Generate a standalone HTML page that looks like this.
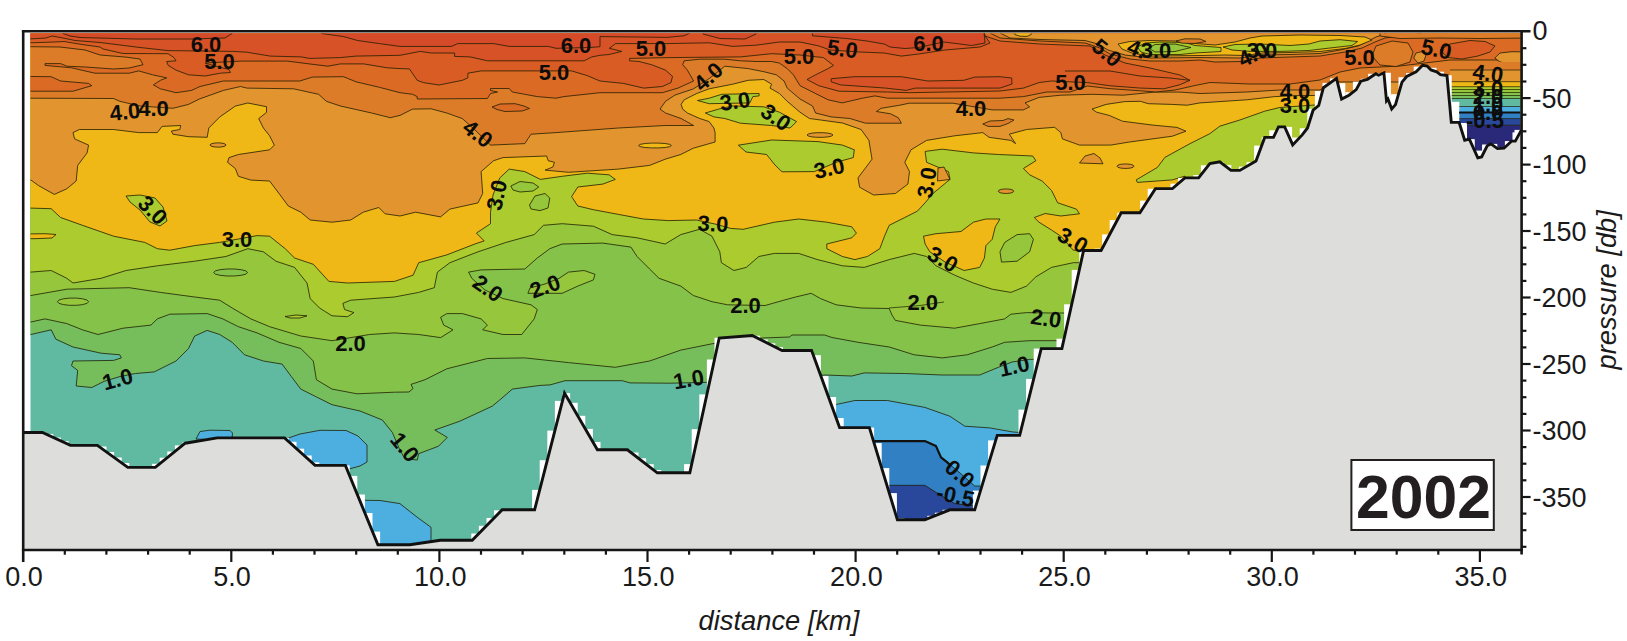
<!DOCTYPE html>
<html><head><meta charset="utf-8"><title>2002 section</title>
<style>html,body{margin:0;padding:0;background:#fff;}body{width:1627px;height:641px;position:relative;overflow:hidden;font-family:"Liberation Sans",sans-serif;}</style>
</head><body>
<svg width="1627" height="641" viewBox="0 0 1627 641" style="position:absolute;left:0;top:0">
<defs><clipPath id="w"><rect x="30.5" y="33.4" width="1490" height="516"/></clipPath><clipPath id="rbc"><rect x="1446" y="33.4" width="74.5" height="130"/></clipPath></defs>
<rect x="0" y="0" width="1627" height="641" fill="#fff"/>
<g clip-path="url(#w)" stroke-linejoin="round">
<rect x="25" y="25" width="1500" height="530" fill="#60b9a1"/>
<polygon points="25.0,334.5 30.9,334.5 51.2,329.8 55.9,339.2 73.0,347.0 101.1,353.2 119.8,354.8 121.4,357.9 113.6,360.4 73.0,361.0 71.5,365.7 77.7,370.4 76.2,386.0 91.8,387.5 104.2,381.3 120.0,376.5 135.4,373.5 154.2,371.9 176.0,361.0 188.5,348.5 194.7,336.0 207.2,330.4 219.7,334.5 232.2,342.3 244.6,354.8 263.4,361.0 282.1,364.1 291.4,376.6 300.8,389.1 316.4,396.9 332.0,404.7 360.0,411.0 382.4,420.0 392.4,432.5 399.9,450.0 404.8,458.7 417.3,460.0 418.6,453.7 438.5,446.2 447.3,437.4 434.8,430.0 459.8,421.2 492.2,406.2 499.7,400.0 512.3,389.1 540.0,385.4 550.0,384.9 565.0,380.7 622.4,380.7 629.9,382.9 669.8,383.2 705.0,382.4 760.0,380.0 825.2,375.0 851.8,376.0 864.2,372.9 904.8,373.5 942.2,375.0 979.7,375.0 998.4,367.3 1012.0,362.0 1029.6,359.4 1045.0,359.0 1540.0,359.0 1540.0,20.0 25.0,20.0" fill="#76be5c" stroke="rgba(30,28,0,0.78)" stroke-width="1.0"/>
<polygon points="25.0,322.0 30.9,322.0 45.0,318.9 66.8,323.6 82.4,329.8 98.0,334.5 123.0,328.2 151.0,325.1 157.3,318.9 169.8,314.2 207.2,313.6 222.8,318.9 238.4,326.7 257.1,332.9 279.0,342.3 300.8,348.5 313.3,361.0 316.4,379.7 332.0,389.1 357.0,393.8 394.4,392.2 409.0,392.0 413.0,388.5 411.0,384.4 425.0,379.7 446.8,368.8 487.4,358.5 524.8,357.9 568.5,362.6 615.3,367.3 649.6,361.0 680.8,350.1 712.0,343.8 730.0,341.0 762.2,338.0 789.6,337.0 792.0,335.0 824.6,335.0 832.0,337.5 858.0,342.3 889.2,347.0 914.2,354.8 942.2,357.9 967.2,354.8 992.2,347.0 1004.7,342.3 1029.6,340.7 1057.7,340.7 1070.0,340.7 1540.0,340.7 1540.0,20.0 25.0,20.0" fill="#84c24a" stroke="rgba(30,28,0,0.78)" stroke-width="1.0"/>
<polygon points="25.0,295.5 30.9,295.5 66.8,289.2 129.2,287.7 160.4,292.4 194.7,297.0 219.7,300.2 232.2,308.0 250.9,318.9 269.6,326.7 300.8,336.0 332.0,340.7 369.5,334.5 394.4,332.9 418.7,334.5 440.6,337.6 453.0,329.8 443.7,325.1 440.6,317.3 446.8,313.6 462.4,313.6 481.1,318.9 487.4,325.1 482.7,329.8 503.0,334.5 521.7,334.5 534.2,318.9 537.3,309.5 531.0,304.8 503.0,298.6 485.0,290.0 471.8,278.3 468.6,272.1 481.1,269.9 524.8,269.0 537.3,258.0 549.8,248.7 562.2,244.0 602.8,243.1 630.9,247.1 637.1,256.5 649.6,269.0 659.0,278.3 680.8,286.1 693.3,295.5 712.0,301.7 727.6,304.8 765.1,305.5 783.8,300.2 795.6,297.0 811.2,293.3 820.6,298.6 836.2,304.8 861.1,308.0 889.2,308.5 892.0,315.0 895.4,320.4 920.4,325.1 954.7,328.2 979.7,323.6 1004.7,318.9 1010.9,314.2 1026.5,312.6 1050.0,313.0 1075.0,313.0 1540.0,313.0 1540.0,20.0 25.0,20.0" fill="#95c63c" stroke="rgba(30,28,0,0.78)" stroke-width="1.0"/>
<polygon points="527.9,293.3 562.2,293.3 577.8,286.1 593.4,279.9 595.0,274.3 584.1,270.5 568.5,272.1 559.1,278.3 545.0,284.0 530.0,288.0" fill="#95c63c" stroke="rgba(30,28,0,0.78)" stroke-width="1.0"/>
<polygon points="88.6,301.7 87.1,303.3 82.7,304.6 76.5,305.3 69.5,305.3 63.3,304.6 58.9,303.3 57.4,301.7 58.9,300.1 63.3,298.8 69.5,298.1 76.5,298.1 82.7,298.8 87.1,300.1" fill="#95c63c" stroke="rgba(30,28,0,0.78)" stroke-width="1.0"/>
<polygon points="25.0,272.1 30.9,272.1 51.2,270.5 66.8,278.3 73.0,283.0 101.1,278.3 126.1,270.5 157.3,265.8 194.7,261.2 225.9,256.5 247.8,248.7 263.4,251.8 275.9,261.2 294.6,267.4 307.0,283.0 310.2,298.6 319.5,308.0 332.0,315.8 347.6,316.7 353.9,312.6 344.5,309.5 342.9,303.3 350.7,300.2 394.4,297.0 418.7,292.4 434.3,287.7 437.4,272.1 449.9,262.7 478.0,251.8 506.1,242.4 534.2,234.6 543.5,225.3 562.2,223.7 593.4,226.2 612.2,234.6 637.1,237.8 665.2,244.0 680.8,234.6 699.5,229.3 712.0,236.2 719.8,251.8 721.4,262.7 733.9,270.5 746.3,267.4 758.8,256.5 774.4,253.4 798.7,253.4 817.4,259.6 842.4,265.8 864.2,267.4 889.2,259.6 914.2,253.4 926.6,256.5 936.0,265.8 954.7,275.2 973.4,283.0 992.2,289.2 1010.9,292.4 1026.5,286.1 1035.9,276.8 1051.5,267.4 1073.3,262.7 1090.0,262.7 1540.0,262.7 1540.0,20.0 25.0,20.0" fill="#abcb2e" stroke="rgba(30,28,0,0.78)" stroke-width="1.0"/>
<polygon points="247.6,272.5 245.9,274.1 241.2,275.3 234.4,276.0 226.8,276.0 220.0,275.3 215.3,274.1 213.6,272.5 215.3,270.9 220.0,269.7 226.8,269.0 234.4,269.0 241.2,269.7 245.9,270.9" fill="#84c24a" stroke="rgba(30,28,0,0.78)" stroke-width="1.0"/>
<polygon points="510.8,186.0 520.0,181.5 533.0,183.0 538.8,187.0 533.0,191.0 520.0,192.0 513.0,190.0" fill="#95c63c" stroke="rgba(30,28,0,0.78)" stroke-width="1.0"/>
<polygon points="529.5,205.0 535.0,196.0 545.0,193.5 549.8,198.0 548.0,208.0 540.0,210.6 531.0,209.0" fill="#95c63c" stroke="rgba(30,28,0,0.78)" stroke-width="1.0"/>
<polygon points="1000.0,251.8 1004.7,242.4 1017.1,234.6 1029.6,233.7 1033.4,239.3 1029.6,251.8 1017.1,261.2 1001.5,262.1" fill="#95c63c" stroke="rgba(30,28,0,0.78)" stroke-width="1.0"/>
<polygon points="285.0,316.5 296.0,315.0 307.0,315.8 300.0,318.0 290.0,318.0" fill="#abcb2e" stroke="rgba(30,28,0,0.78)" stroke-width="1.0"/>
<polygon points="25.0,208.1 30.9,208.1 51.2,208.7 60.6,217.5 82.4,225.3 113.6,236.2 144.8,242.4 157.3,248.7 169.8,250.2 194.7,245.6 219.7,242.4 257.1,235.6 269.6,236.2 285.2,248.7 294.6,258.0 313.3,264.3 328.9,281.4 347.6,283.0 394.4,281.4 413.1,275.2 418.7,262.7 446.8,254.9 474.9,244.0 484.2,240.9 476.4,233.1 490.5,223.7 490.5,212.2 493.0,195.0 499.8,177.9 509.2,169.1 524.8,171.6 540.4,179.4 562.2,176.3 587.2,173.2 609.0,174.8 615.3,179.4 602.8,184.1 577.8,187.0 571.6,196.6 577.8,206.0 593.4,209.7 618.4,214.4 643.4,219.0 668.3,220.6 696.4,220.0 715.0,224.0 730.7,228.4 743.2,229.3 774.4,222.2 798.7,219.0 826.8,222.2 851.8,226.8 856.4,233.1 851.8,237.8 826.8,244.0 826.8,248.7 842.4,256.5 854.9,259.6 867.4,256.5 879.8,248.7 884.5,236.2 889.2,225.3 904.8,217.5 917.3,211.2 925.1,202.8 932.9,193.5 950.0,179.4 948.5,171.6 926.6,162.3 925.1,151.4 942.2,149.2 973.4,152.9 998.4,154.5 1032.7,156.0 1035.9,160.7 1023.4,168.5 1029.6,174.8 1042.1,181.0 1051.5,190.4 1057.7,202.8 1076.4,209.1 1079.5,213.8 1060.8,216.0 1045.2,213.5 1034.3,217.5 1039.0,222.2 1051.5,230.0 1060.8,236.2 1073.3,250.2 1090.0,250.5 1540.0,250.5 1540.0,20.0 25.0,20.0" fill="#f0b817" stroke="rgba(30,28,0,0.78)" stroke-width="1.0"/>
<polygon points="923.5,236.2 936.0,233.7 961.0,231.5 973.4,222.2 985.9,219.0 1000.0,219.0 995.3,226.8 992.2,239.3 985.9,245.6 984.4,258.0 979.7,267.4 964.1,270.5 945.0,262.0 929.8,251.8 925.1,244.0" fill="#f0b817" stroke="rgba(30,28,0,0.78)" stroke-width="1.0"/>
<polygon points="25.0,234.0 45.0,233.7 56.0,234.5 52.0,238.0 35.0,238.7 25.0,238.7" fill="#f0b817" stroke="rgba(30,28,0,0.78)" stroke-width="1.0"/>
<polygon points="126.0,196.0 140.0,195.0 155.0,198.0 163.0,207.0 167.0,221.0 160.0,226.0 150.0,222.0 140.0,210.0 130.0,202.0" fill="#abcb2e" stroke="rgba(30,28,0,0.78)" stroke-width="1.0"/>
<polygon points="738.3,145.2 771.7,140.0 818.0,141.6 842.4,145.1 854.3,149.8 853.3,157.6 836.2,162.3 814.3,171.6 782.0,171.8 775.0,165.0 766.6,154.5 746.0,152.0" fill="#abcb2e" stroke="rgba(30,28,0,0.78)" stroke-width="1.0"/>
<polygon points="697.5,100.5 709.2,98.2 721.7,94.3 759.1,93.5 759.1,95.9 752.9,96.6 749.8,102.9 709.2,103.7" fill="#abcb2e" stroke="rgba(30,28,0,0.78)" stroke-width="1.0"/>
<polygon points="705.3,113.0 718.6,109.1 732.6,106.0 763.8,106.8 779.4,112.2 796.6,121.6 790.0,128.0 771.6,125.5 740.4,123.2 724.8,118.5 713.9,116.9" fill="#abcb2e" stroke="rgba(30,28,0,0.78)" stroke-width="1.0"/>
<polygon points="1136.2,179.9 1157.4,167.4 1164.9,157.4 1189.9,143.7 1209.8,133.7 1219.8,126.2 1239.8,120.0 1264.7,111.2 1279.7,107.5 1314.7,105.0 1330.0,100.0 1330.0,200.0 1190.0,200.0 1184.9,176.1 1172.4,179.9 1137.4,182.4" fill="#abcb2e" stroke="rgba(30,28,0,0.78)" stroke-width="1.0"/>
<polygon points="25.0,180.0 30.9,180.0 38.7,185.7 54.3,194.4 66.8,188.8 76.2,181.0 77.7,165.4 87.1,152.9 88.6,145.1 74.6,138.9 73.0,132.6 79.3,129.5 113.6,129.5 138.6,132.6 157.3,132.6 162.0,126.4 180.7,125.5 179.8,129.5 171.3,131.1 172.9,134.2 188.5,136.7 207.2,137.3 208.8,128.0 219.7,117.0 235.3,106.1 247.8,103.0 266.5,106.7 266.5,112.4 258.7,118.6 263.4,128.0 269.6,135.8 274.3,145.1 269.6,149.8 238.4,154.5 229.0,157.6 227.5,162.3 235.3,168.5 238.4,176.3 250.9,180.1 269.6,181.0 279.0,193.5 288.3,206.0 300.8,212.2 310.2,220.0 332.0,222.2 350.7,220.0 363.2,212.2 378.8,207.5 385.1,213.8 400.0,216.0 415.6,212.2 440.6,216.9 449.9,209.1 478.0,202.9 482.7,193.5 481.1,171.6 493.6,160.7 503.0,157.6 546.6,156.0 548.2,160.7 554.4,162.3 552.9,167.0 545.1,170.1 568.5,172.3 618.4,169.1 649.6,165.4 665.2,159.2 680.8,154.5 693.3,148.2 715.1,142.0 715.1,132.6 713.9,128.0 709.2,121.6 699.8,118.5 687.4,113.0 682.7,109.1 681.1,104.4 684.2,99.8 696.7,93.5 709.2,88.8 732.6,84.2 748.2,80.3 763.8,79.5 771.6,84.2 770.0,88.1 779.4,93.5 787.2,101.3 800.0,112.2 809.4,118.5 820.6,120.0 842.4,123.0 861.1,129.5 868.9,140.4 872.0,159.2 858.0,177.9 859.6,187.2 873.6,195.0 895.4,193.5 907.9,184.1 909.5,171.6 904.8,162.3 911.0,149.8 926.6,140.4 954.7,135.8 982.8,132.6 989.0,137.3 1010.9,140.4 1015.6,143.6 1009.3,134.2 1026.5,129.5 1054.6,127.3 1060.8,132.6 1062.4,138.9 1079.5,145.1 1110.7,145.1 1129.5,142.0 1172.4,136.2 1186.0,131.2 1177.0,127.4 1152.0,125.0 1122.5,121.2 1109.2,115.4 1096.7,112.2 1092.0,109.1 1106.1,104.4 1124.8,101.6 1140.4,101.3 1148.2,103.7 1171.6,104.4 1187.2,105.2 1200.0,102.9 1246.8,99.8 1274.9,96.6 1300.0,95.5 1320.0,95.5 1540.0,95.5 1540.0,20.0 25.0,20.0" fill="#e2942e" stroke="rgba(30,28,0,0.78)" stroke-width="1.0"/>
<polygon points="226.0,145.0 225.2,146.0 223.0,146.7 219.8,147.1 216.2,147.1 213.0,146.7 210.8,146.0 210.0,145.0 210.8,144.0 213.0,143.3 216.2,142.9 219.8,142.9 223.0,143.3 225.2,144.0" fill="#e2942e" stroke="rgba(30,28,0,0.78)" stroke-width="1.0"/>
<polygon points="833.0,135.0 831.7,136.0 828.1,136.9 822.9,137.3 817.1,137.3 811.9,136.9 808.3,136.0 807.0,135.0 808.3,134.0 811.9,133.1 817.1,132.7 822.9,132.7 828.1,133.1 831.7,134.0" fill="#e2942e" stroke="rgba(30,28,0,0.78)" stroke-width="1.0"/>
<polygon points="1079.5,163.0 1085.0,156.0 1094.0,153.5 1100.0,158.0 1103.0,163.8" fill="#e2942e" stroke="rgba(30,28,0,0.78)" stroke-width="1.0"/>
<polygon points="1134.0,166.2 1133.2,167.2 1130.8,168.0 1127.4,168.4 1123.6,168.4 1120.2,168.0 1117.8,167.2 1117.0,166.2 1117.8,165.2 1120.2,164.4 1123.6,164.0 1127.4,164.0 1130.8,164.4 1133.2,165.2" fill="#e2942e" stroke="rgba(30,28,0,0.78)" stroke-width="1.0"/>
<polygon points="1013.8,191.2 1013.0,192.2 1010.9,193.0 1007.7,193.4 1004.3,193.4 1001.1,193.0 999.0,192.2 998.2,191.2 999.0,190.2 1001.1,189.4 1004.3,189.0 1007.7,189.0 1010.9,189.4 1013.0,190.2" fill="#e2942e" stroke="rgba(30,28,0,0.78)" stroke-width="1.0"/>
<polygon points="937.5,181.0 938.0,168.0 944.0,167.0 950.0,179.4" fill="#e2942e" stroke="rgba(30,28,0,0.78)" stroke-width="1.0"/>
<polygon points="671.4,145.5 669.8,146.6 665.2,147.5 658.6,147.9 651.4,147.9 644.8,147.5 640.2,146.6 638.6,145.5 640.2,144.4 644.8,143.5 651.4,143.1 658.6,143.1 665.2,143.5 669.8,144.4" fill="#f0b817" stroke="rgba(30,28,0,0.78)" stroke-width="1.0"/>
<polygon points="25.0,98.2 30.9,98.2 113.6,98.5 119.8,101.3 140.0,106.0 172.9,108.3 188.5,104.4 199.4,99.0 223.4,90.4 240.6,86.5 246.8,88.1 293.6,88.8 318.6,94.3 326.4,101.3 340.4,106.0 371.6,113.0 390.3,117.7 400.0,115.4 412.5,109.1 431.2,108.8 446.8,113.0 462.4,118.6 475.0,130.0 490.5,145.1 524.8,143.6 531.0,134.2 556.0,132.6 618.4,128.0 665.2,125.5 693.6,125.5 681.1,118.5 665.5,113.0 660.0,109.1 665.5,101.3 674.9,95.1 693.6,88.8 710.0,78.0 724.8,66.2 748.2,68.6 763.8,71.7 776.3,74.8 784.1,81.0 787.2,88.1 800.0,99.0 812.5,106.0 815.6,113.0 831.2,116.9 849.9,118.5 865.5,123.2 901.4,123.2 898.3,117.7 890.5,113.8 876.4,111.5 881.1,108.3 899.8,105.2 909.2,103.2 952.9,103.2 992.2,109.9 1023.4,109.9 1029.6,106.8 1025.0,102.9 1039.0,97.4 1060.8,95.2 1092.0,94.3 1123.2,95.2 1154.4,92.1 1180.0,92.1 1200.0,93.5 1246.8,92.0 1280.0,90.0 1320.0,90.0 1335.0,82.0 1540.0,82.0 1540.0,20.0 25.0,20.0" fill="#dd7c28" stroke="rgba(30,28,0,0.78)" stroke-width="1.0"/>
<polygon points="982.8,124.0 990.0,121.0 1003.0,120.5 1008.0,118.6 1014.0,120.0 1008.0,123.5 1000.0,126.4 988.0,126.4" fill="#dd7c28" stroke="rgba(30,28,0,0.78)" stroke-width="1.0"/>
<polygon points="25.0,46.7 30.9,46.7 60.0,47.0 85.0,50.0 100.0,55.0 125.0,57.0 140.0,59.0 143.0,64.7 129.0,68.0 113.6,69.0 85.5,67.0 66.8,66.2 60.6,63.6 45.0,63.6 45.0,65.4 71.5,67.8 94.9,73.2 129.2,73.2 138.6,70.9 152.6,74.8 166.7,77.9 160.4,80.3 153.4,84.9 160.4,88.8 176.0,92.7 191.6,90.4 200.0,86.5 223.4,81.0 299.8,81.0 312.3,77.1 343.5,76.7 356.0,81.8 379.4,87.3 400.0,92.7 412.5,94.3 417.2,96.6 417.2,99.0 487.4,98.5 490.5,93.5 497.5,92.0 490.5,90.4 490.5,88.5 509.2,88.5 512.3,92.0 524.8,94.3 537.3,96.6 556.0,98.2 563.8,96.6 600.0,92.7 662.4,92.7 678.0,88.1 693.6,81.0 687.4,70.1 682.7,64.7 684.2,60.8 699.8,59.2 724.8,59.2 740.4,60.8 756.0,61.5 771.6,61.5 779.4,63.1 787.2,68.6 793.4,74.8 800.0,85.7 812.5,92.0 828.1,99.8 842.1,102.9 862.4,98.2 874.9,95.9 887.4,98.2 1000.0,98.2 1023.4,96.6 1046.8,92.0 1070.0,92.0 1087.4,86.0 1109.2,88.6 1140.4,90.8 1156.0,92.0 1175.0,90.0 1195.0,85.5 1210.0,82.5 1250.0,84.0 1290.0,84.0 1320.0,80.0 1340.0,72.0 1360.0,68.0 1400.0,66.0 1425.0,63.0 1450.0,60.0 1540.0,60.0 1540.0,20.0 25.0,20.0" fill="#db6a24" stroke="rgba(30,28,0,0.78)" stroke-width="1.0"/>
<polygon points="25.0,76.4 51.2,76.7 60.6,81.0 88.6,83.4 91.8,85.7 73.0,91.2 25.0,91.2" fill="#db6a24" stroke="rgba(30,28,0,0.78)" stroke-width="1.0"/>
<polygon points="492.0,107.0 500.0,104.0 515.0,103.7 524.0,106.0 529.5,108.5 522.0,111.0 505.0,111.5 497.0,109.5" fill="#db6a24" stroke="rgba(30,28,0,0.78)" stroke-width="1.0"/>
<polygon points="25.0,42.8 30.9,42.8 54.0,42.0 64.0,41.5 82.0,44.5 100.0,47.0 103.0,49.0 123.0,53.5 168.0,53.7 174.0,57.6 176.0,60.8 166.7,61.5 168.2,65.4 176.0,70.1 188.5,74.8 205.0,76.0 220.3,73.2 230.4,72.5 229.0,69.5 215.0,66.0 205.0,63.0 240.6,61.1 287.4,61.1 309.2,63.9 327.9,66.2 340.4,63.9 363.8,63.9 387.2,67.8 400.0,68.6 409.4,68.9 417.2,80.3 423.4,82.6 439.0,85.0 462.4,80.3 467.9,77.9 467.9,73.2 481.1,70.9 571.6,70.9 587.2,75.6 600.0,81.0 623.4,83.4 643.7,88.1 662.4,86.5 671.0,82.6 672.5,76.4 665.5,70.1 651.5,64.7 639.0,61.5 629.6,60.8 629.6,58.4 670.2,57.6 740.4,56.9 771.6,53.7 800.0,55.0 823.4,57.6 833.5,65.4 828.1,68.6 815.6,74.8 807.0,79.5 818.7,85.7 839.0,91.2 887.4,92.0 909.2,92.7 1000.0,91.0 1023.4,88.1 1039.0,82.6 1051.5,81.0 1087.4,82.6 1109.2,85.7 1140.4,88.1 1163.8,88.8 1179.4,84.9 1190.0,80.3 1180.0,75.0 1150.0,68.0 1125.0,63.0 1105.0,55.0 1090.0,46.0 1040.0,44.0 1000.0,41.0 985.0,36.0 980.0,20.0 25.0,20.0" fill="#d95c24" stroke="rgba(30,28,0,0.78)" stroke-width="1.0"/>
<polygon points="25.0,38.9 30.9,38.9 46.0,38.0 52.0,36.0 63.0,38.0 75.0,40.5 100.0,42.5 120.0,45.0 140.0,47.5 168.0,50.6 200.0,51.0 232.8,51.4 246.8,52.2 270.2,56.1 301.4,56.9 309.2,58.4 340.4,57.6 356.0,56.1 400.0,55.3 420.3,51.4 431.2,53.0 454.6,53.0 454.6,56.4 470.2,56.9 487.4,60.8 584.1,60.8 591.9,56.9 600.0,55.3 609.0,54.5 621.8,51.4 609.4,48.3 615.6,43.6 667.0,43.6 709.2,42.8 732.6,46.4 756.0,45.2 779.4,42.0 800.0,42.0 818.7,45.9 830.0,50.0 860.0,52.0 884.2,53.0 901.4,56.1 918.6,54.0 945.0,50.0 980.0,47.0 990.0,43.0 985.0,36.0 982.0,20.0 25.0,20.0" fill="#d75226" stroke="rgba(30,28,0,0.78)" stroke-width="1.0"/>
<polygon points="831.2,78.7 854.6,76.7 901.4,76.7 927.9,81.0 963.8,80.3 974.7,77.1 1000.0,76.7 1011.7,78.0 1012.0,84.0 1000.0,88.1 915.4,88.1 906.1,90.4 885.8,88.1 840.6,84.9 831.2,81.8" fill="#d75226" stroke="rgba(30,28,0,0.78)" stroke-width="1.0"/>
<polygon points="63.0,20.0 63.0,33.5 70.0,36.0 80.0,37.5 136.0,39.0 190.0,39.0 225.0,38.0 232.0,33.5 232.0,20.0" fill="#d54a28" stroke="rgba(30,28,0,0.78)" stroke-width="1.0"/>
<polygon points="321.7,20.0 321.7,33.5 343.5,36.6 357.6,40.5 379.4,43.6 400.0,46.4 451.5,46.4 457.7,43.6 493.6,43.6 509.2,46.4 548.2,46.4 556.0,48.3 590.0,47.5 600.0,46.7 600.0,36.6 667.0,37.4 684.0,35.8 690.0,33.0 690.0,20.0" fill="#d54a28" stroke="rgba(30,28,0,0.78)" stroke-width="1.0"/>
<polygon points="703.0,20.0 703.0,34.0 720.0,38.5 745.0,39.0 756.0,34.0 756.0,20.0" fill="#d54a28" stroke="rgba(30,28,0,0.78)" stroke-width="1.0"/>
<polygon points="812.5,20.0 812.5,35.8 846.8,38.5 867.0,41.0 884.2,44.0 890.0,47.0 905.0,48.5 918.6,47.5 943.5,42.0 956.0,43.5 971.6,45.5 985.0,43.0 983.0,20.0" fill="#d54a28" stroke="rgba(30,28,0,0.78)" stroke-width="1.0"/>
<polygon points="990.0,20.0 990.0,33.0 1000.0,38.0 1040.0,41.0 1085.0,43.0 1100.0,48.0 1110.0,54.0 1130.0,59.0 1150.0,61.0 1180.0,61.0 1200.0,60.0 1215.0,62.0 1240.0,61.5 1260.0,58.0 1290.0,57.0 1320.0,56.0 1345.0,52.0 1362.0,48.0 1375.0,42.0 1385.0,38.0 1400.0,36.0 1420.0,34.0 1425.0,20.0" fill="#dd7c28" stroke="rgba(30,28,0,0.78)" stroke-width="1.0"/>
<polygon points="1000.0,20.0 1000.0,33.0 1010.0,38.0 1040.0,39.5 1085.0,40.5 1098.0,44.0 1108.0,50.0 1125.0,55.0 1150.0,58.0 1200.0,57.5 1240.0,58.0 1260.0,55.0 1290.0,54.5 1320.0,53.5 1340.0,50.0 1358.0,46.0 1368.0,41.0 1376.0,37.0 1385.0,34.0 1388.0,20.0" fill="#e2942e" stroke="rgba(30,28,0,0.78)" stroke-width="1.0"/>
<polygon points="1118.0,44.0 1130.0,41.5 1150.0,40.5 1175.0,41.0 1195.0,43.5 1215.0,45.0 1235.0,42.0 1250.0,38.0 1262.0,36.0 1300.0,35.0 1340.0,35.5 1365.0,37.0 1372.0,40.0 1360.0,45.0 1345.0,48.5 1320.0,51.5 1290.0,52.5 1262.0,53.0 1245.0,55.5 1225.0,55.0 1200.0,55.5 1150.0,56.0 1132.0,53.0 1122.0,49.0" fill="#f0b817" stroke="rgba(30,28,0,0.78)" stroke-width="1.0"/>
<polygon points="1137.4,47.0 1145.0,43.0 1160.0,42.0 1185.0,42.5 1195.0,45.5 1221.0,47.5 1221.0,51.5 1195.0,53.0 1180.0,54.5 1150.0,54.5 1141.0,52.0" fill="#abcb2e" stroke="rgba(30,28,0,0.78)" stroke-width="1.0"/>
<polygon points="1223.0,47.0 1235.0,44.5 1260.0,44.0 1290.0,45.5 1309.0,44.0 1320.0,41.0 1340.0,39.7 1357.6,41.5 1352.0,45.5 1330.0,48.0 1309.0,50.5 1280.0,51.4 1250.0,51.4 1232.0,50.0" fill="#abcb2e" stroke="rgba(30,28,0,0.78)" stroke-width="1.0"/>
<polygon points="1148.7,48.0 1155.0,44.5 1175.0,44.0 1191.0,47.5 1175.0,51.5 1155.0,52.0" fill="#95c63c" stroke="rgba(30,28,0,0.78)" stroke-width="1.0"/>
<polygon points="1176.0,41.0 1185.0,38.8 1200.0,39.0 1206.0,41.5 1195.0,43.4 1182.0,43.2" fill="#dd7c28" stroke="rgba(30,28,0,0.78)" stroke-width="1.0"/>
<polygon points="1014.8,20.0 1014.8,34.5 1020.0,36.2 1027.0,36.4 1031.2,34.5 1031.2,20.0" fill="#f0b817" stroke="rgba(30,28,0,0.78)" stroke-width="1.0"/>
<polygon points="1380.0,20.0 1380.0,36.0 1400.0,38.5 1440.0,38.0 1480.0,38.5 1530.0,38.0 1530.0,20.0" fill="#dd7c28" stroke="rgba(30,28,0,0.78)" stroke-width="1.0"/>
<polygon points="1376.0,46.0 1392.0,41.0 1408.0,43.0 1413.0,52.0 1410.0,62.0 1396.0,66.5 1380.0,65.0 1372.0,56.0" fill="#dd7c28" stroke="rgba(30,28,0,0.78)" stroke-width="1.0"/>
<polygon points="1440.0,50.0 1450.0,44.0 1470.0,40.5 1485.0,41.5 1495.0,46.0 1490.0,52.0 1478.0,56.0 1462.0,59.0 1448.0,57.5" fill="#d95c24" stroke="rgba(30,28,0,0.78)" stroke-width="1.0"/>
<polygon points="1413.7,58.0 1416.0,53.0 1422.0,51.7 1426.0,55.0 1424.0,61.0 1418.0,63.0" fill="#e2942e" stroke="rgba(30,28,0,0.78)" stroke-width="1.0"/>
<polygon points="1494.8,58.0 1500.0,53.0 1512.0,51.7 1530.0,52.0 1530.0,65.4 1512.0,64.0 1500.0,62.0" fill="#e2942e" stroke="rgba(30,28,0,0.78)" stroke-width="1.0"/>
<polygon points="287.0,438.5 300.0,434.0 320.0,430.3 346.0,430.5 358.0,436.0 367.0,445.0 367.0,462.0 360.0,466.0 345.4,470.0 315.0,470.0 284.6,442.0" fill="#4dafe0" stroke="rgba(30,28,0,0.78)" stroke-width="1.0"/>
<polygon points="365.4,500.3 380.0,500.5 399.9,503.6 417.3,517.3 431.0,527.3 431.0,545.0 409.8,550.0 377.9,550.0 360.0,500.0" fill="#4dafe0" stroke="rgba(30,28,0,0.78)" stroke-width="1.0"/>
<polygon points="830.0,406.5 833.7,405.0 854.9,400.5 887.4,400.5 924.8,407.4 949.8,416.2 964.8,426.2 989.7,427.9 1012.2,431.9 1025.0,433.0 1025.0,530.0 830.0,530.0" fill="#4dafe0" stroke="rgba(30,28,0,0.78)" stroke-width="1.0"/>
<polygon points="860.0,441.1 924.8,441.1 936.0,446.1 941.0,457.4 947.3,462.4 960.0,473.0 974.7,486.0 990.0,486.0 990.0,530.0 860.0,530.0" fill="#3080c3" stroke="rgba(30,28,0,0.78)" stroke-width="1.0"/>
<polygon points="880.0,485.3 924.8,485.3 939.8,494.8 954.8,503.6 974.7,506.0 990.0,506.0 990.0,530.0 880.0,530.0" fill="#2a489b" stroke="rgba(30,28,0,0.78)" stroke-width="1.0"/>
<polygon points="196.0,439.0 200.0,431.5 210.0,430.2 230.0,430.5 232.5,433.0 232.0,439.5 217.0,440.0" fill="#4dafe0" stroke="rgba(30,28,0,0.78)" stroke-width="1.0"/>
<polyline points="1065,71 1110,71 1140,76 1170,78 1190,80.3" fill="none" stroke="rgba(30,28,0,0.78)" stroke-width="1"/>
<polyline points="889,308 920,305.5 944,302" fill="none" stroke="rgba(30,28,0,0.78)" stroke-width="0.9"/>
</g>
<g clip-path="url(#rbc)">
<rect x="1450" y="62.0" width="80" height="8.5" fill="#dd7c28"/>
<rect x="1450" y="70.0" width="80" height="12.2" fill="#e2942e"/>
<rect x="1450" y="81.7" width="80" height="5.5" fill="#f0b817"/>
<rect x="1450" y="86.7" width="80" height="3.3" fill="#abcb2e"/>
<rect x="1450" y="89.5" width="80" height="3.5" fill="#95c63c"/>
<rect x="1450" y="92.5" width="80" height="3.5" fill="#84c24a"/>
<rect x="1450" y="95.5" width="80" height="3.5" fill="#76be5c"/>
<rect x="1450" y="98.5" width="80" height="8.5" fill="#60b9a1"/>
<rect x="1450" y="106.5" width="80" height="6.5" fill="#4dafe0"/>
<rect x="1450" y="112.5" width="80" height="6.6" fill="#3080c3"/>
<rect x="1450" y="118.6" width="80" height="7.1" fill="#2a489b"/>
<rect x="1450" y="125.2" width="80" height="45.3" fill="#2a2878"/>
<line x1="1450" x2="1530" y1="70.0" y2="70.0" stroke="rgba(30,28,0,0.78)" stroke-width="0.9"/>
<line x1="1450" x2="1530" y1="81.7" y2="81.7" stroke="rgba(30,28,0,0.78)" stroke-width="0.9"/>
<line x1="1450" x2="1530" y1="86.7" y2="86.7" stroke="rgba(30,28,0,0.78)" stroke-width="0.9"/>
<line x1="1450" x2="1530" y1="89.5" y2="89.5" stroke="rgba(30,28,0,0.78)" stroke-width="0.9"/>
<line x1="1450" x2="1530" y1="92.5" y2="92.5" stroke="rgba(30,28,0,0.78)" stroke-width="0.9"/>
<line x1="1450" x2="1530" y1="95.5" y2="95.5" stroke="rgba(30,28,0,0.78)" stroke-width="0.9"/>
<line x1="1450" x2="1530" y1="98.5" y2="98.5" stroke="rgba(30,28,0,0.78)" stroke-width="0.9"/>
<line x1="1450" x2="1530" y1="106.5" y2="106.5" stroke="rgba(30,28,0,0.78)" stroke-width="0.9"/>
<line x1="1450" x2="1530" y1="112.5" y2="112.5" stroke="rgba(30,28,0,0.78)" stroke-width="0.9"/>
<line x1="1450" x2="1530" y1="118.6" y2="118.6" stroke="rgba(30,28,0,0.78)" stroke-width="0.9"/>
<line x1="1450" x2="1530" y1="125.2" y2="125.2" stroke="rgba(30,28,0,0.78)" stroke-width="0.9"/>
</g>
<rect x="38.1" y="432.5" width="7.6" height="2.5" fill="#fff"/>
<rect x="45.7" y="434.0" width="7.6" height="4.5" fill="#fff"/>
<rect x="53.3" y="437.5" width="7.6" height="4.5" fill="#fff"/>
<rect x="60.9" y="441.0" width="7.6" height="4.5" fill="#fff"/>
<rect x="91.3" y="445.4" width="7.6" height="2.1" fill="#fff"/>
<rect x="98.9" y="446.5" width="7.6" height="6.5" fill="#fff"/>
<rect x="106.5" y="452.0" width="7.6" height="6.5" fill="#fff"/>
<rect x="114.1" y="457.5" width="7.6" height="6.5" fill="#fff"/>
<rect x="121.7" y="463.0" width="7.6" height="5.4" fill="#fff"/>
<rect x="152.1" y="463.8" width="7.6" height="4.6" fill="#fff"/>
<rect x="159.7" y="457.7" width="7.6" height="7.2" fill="#fff"/>
<rect x="167.3" y="451.5" width="7.6" height="7.2" fill="#fff"/>
<rect x="174.9" y="445.4" width="7.6" height="7.2" fill="#fff"/>
<rect x="182.5" y="442.4" width="7.6" height="4.0" fill="#fff"/>
<rect x="190.1" y="441.1" width="7.6" height="2.3" fill="#fff"/>
<rect x="197.7" y="439.9" width="7.6" height="2.3" fill="#fff"/>
<rect x="205.3" y="438.6" width="7.6" height="2.3" fill="#fff"/>
<rect x="281.3" y="437.9" width="7.6" height="4.9" fill="#fff"/>
<rect x="288.9" y="441.8" width="7.6" height="7.9" fill="#fff"/>
<rect x="296.5" y="448.7" width="7.6" height="7.9" fill="#fff"/>
<rect x="304.1" y="455.5" width="7.6" height="7.9" fill="#fff"/>
<rect x="311.7" y="462.4" width="7.6" height="4.0" fill="#fff"/>
<rect x="342.1" y="465.4" width="7.6" height="11.5" fill="#fff"/>
<rect x="349.7" y="475.9" width="7.6" height="19.6" fill="#fff"/>
<rect x="357.3" y="494.5" width="7.6" height="19.6" fill="#fff"/>
<rect x="364.9" y="513.0" width="7.6" height="19.6" fill="#fff"/>
<rect x="372.5" y="531.6" width="7.6" height="14.2" fill="#fff"/>
<rect x="410.5" y="543.6" width="7.6" height="2.1" fill="#fff"/>
<rect x="418.1" y="542.5" width="7.6" height="2.1" fill="#fff"/>
<rect x="425.7" y="541.3" width="7.6" height="2.1" fill="#fff"/>
<rect x="433.3" y="540.3" width="7.6" height="2.0" fill="#fff"/>
<rect x="471.3" y="533.5" width="7.6" height="7.8" fill="#fff"/>
<rect x="478.9" y="525.8" width="7.6" height="8.7" fill="#fff"/>
<rect x="486.5" y="518.0" width="7.6" height="8.7" fill="#fff"/>
<rect x="494.1" y="510.3" width="7.6" height="8.7" fill="#fff"/>
<rect x="532.1" y="489.9" width="7.6" height="20.9" fill="#fff"/>
<rect x="539.7" y="460.2" width="7.6" height="30.7" fill="#fff"/>
<rect x="547.3" y="430.6" width="7.6" height="30.7" fill="#fff"/>
<rect x="554.9" y="400.9" width="7.6" height="30.7" fill="#fff"/>
<rect x="562.5" y="393.1" width="7.6" height="10.7" fill="#fff"/>
<rect x="570.1" y="402.8" width="7.6" height="14.1" fill="#fff"/>
<rect x="577.7" y="415.8" width="7.6" height="14.1" fill="#fff"/>
<rect x="585.3" y="428.9" width="7.6" height="14.1" fill="#fff"/>
<rect x="592.9" y="442.0" width="7.6" height="8.8" fill="#fff"/>
<rect x="623.3" y="449.8" width="7.6" height="3.7" fill="#fff"/>
<rect x="630.9" y="452.5" width="7.6" height="6.8" fill="#fff"/>
<rect x="638.5" y="458.3" width="7.6" height="6.8" fill="#fff"/>
<rect x="646.1" y="464.2" width="7.6" height="6.8" fill="#fff"/>
<rect x="653.7" y="470.0" width="7.6" height="3.8" fill="#fff"/>
<rect x="684.1" y="464.1" width="7.6" height="9.7" fill="#fff"/>
<rect x="691.7" y="429.2" width="7.6" height="35.8" fill="#fff"/>
<rect x="699.3" y="394.4" width="7.6" height="35.8" fill="#fff"/>
<rect x="706.9" y="359.5" width="7.6" height="35.8" fill="#fff"/>
<rect x="714.5" y="337.8" width="7.6" height="22.8" fill="#fff"/>
<rect x="752.5" y="335.7" width="7.6" height="4.8" fill="#fff"/>
<rect x="760.1" y="339.5" width="7.6" height="4.8" fill="#fff"/>
<rect x="767.7" y="343.3" width="7.6" height="4.8" fill="#fff"/>
<rect x="775.3" y="347.1" width="7.6" height="4.4" fill="#fff"/>
<rect x="805.7" y="350.5" width="7.6" height="5.7" fill="#fff"/>
<rect x="813.3" y="355.2" width="7.6" height="21.9" fill="#fff"/>
<rect x="820.9" y="376.1" width="7.6" height="21.9" fill="#fff"/>
<rect x="828.5" y="397.0" width="7.6" height="21.9" fill="#fff"/>
<rect x="836.1" y="418.0" width="7.6" height="10.6" fill="#fff"/>
<rect x="866.5" y="427.6" width="7.6" height="16.5" fill="#fff"/>
<rect x="874.1" y="443.1" width="7.6" height="26.0" fill="#fff"/>
<rect x="881.7" y="468.1" width="7.6" height="26.0" fill="#fff"/>
<rect x="889.3" y="493.1" width="7.6" height="26.0" fill="#fff"/>
<rect x="896.9" y="518.2" width="7.6" height="2.6" fill="#fff"/>
<rect x="927.3" y="515.8" width="7.6" height="4.0" fill="#fff"/>
<rect x="934.9" y="512.7" width="7.6" height="4.0" fill="#fff"/>
<rect x="942.5" y="509.8" width="7.6" height="3.9" fill="#fff"/>
<rect x="972.9" y="490.6" width="7.6" height="20.2" fill="#fff"/>
<rect x="980.5" y="465.5" width="7.6" height="26.1" fill="#fff"/>
<rect x="988.1" y="440.4" width="7.6" height="26.1" fill="#fff"/>
<rect x="995.7" y="435.4" width="7.6" height="6.0" fill="#fff"/>
<rect x="1018.5" y="409.6" width="7.6" height="26.8" fill="#fff"/>
<rect x="1026.1" y="378.9" width="7.6" height="31.7" fill="#fff"/>
<rect x="1033.7" y="348.6" width="7.6" height="31.3" fill="#fff"/>
<rect x="1056.5" y="338.7" width="7.6" height="10.9" fill="#fff"/>
<rect x="1064.1" y="304.3" width="7.6" height="35.4" fill="#fff"/>
<rect x="1071.7" y="269.9" width="7.6" height="35.4" fill="#fff"/>
<rect x="1079.3" y="250.5" width="7.6" height="20.4" fill="#fff"/>
<rect x="1094.5" y="248.6" width="7.6" height="2.9" fill="#fff"/>
<rect x="1102.1" y="234.4" width="7.6" height="15.3" fill="#fff"/>
<rect x="1109.7" y="220.1" width="7.6" height="15.3" fill="#fff"/>
<rect x="1117.3" y="212.8" width="7.6" height="8.3" fill="#fff"/>
<rect x="1140.1" y="200.6" width="7.6" height="12.9" fill="#fff"/>
<rect x="1147.7" y="188.8" width="7.6" height="12.9" fill="#fff"/>
<rect x="1170.5" y="183.7" width="7.6" height="5.9" fill="#fff"/>
<rect x="1178.1" y="177.9" width="7.6" height="6.8" fill="#fff"/>
<rect x="1193.3" y="175.0" width="7.6" height="3.9" fill="#fff"/>
<rect x="1200.9" y="165.3" width="7.6" height="10.7" fill="#fff"/>
<rect x="1208.5" y="162.5" width="7.6" height="3.7" fill="#fff"/>
<rect x="1216.1" y="161.9" width="7.6" height="4.0" fill="#fff"/>
<rect x="1223.7" y="164.9" width="7.6" height="6.5" fill="#fff"/>
<rect x="1238.9" y="166.6" width="7.6" height="4.8" fill="#fff"/>
<rect x="1246.5" y="162.2" width="7.6" height="5.4" fill="#fff"/>
<rect x="1254.1" y="145.6" width="7.6" height="17.6" fill="#fff"/>
<rect x="1261.7" y="137.4" width="7.6" height="9.2" fill="#fff"/>
<rect x="1269.3" y="130.3" width="7.6" height="8.1" fill="#fff"/>
<rect x="1276.9" y="126.9" width="7.6" height="4.4" fill="#fff"/>
<rect x="1284.5" y="126.9" width="7.6" height="17.6" fill="#fff"/>
<rect x="1292.1" y="137.5" width="7.6" height="8.4" fill="#fff"/>
<rect x="1299.7" y="128.3" width="7.6" height="10.3" fill="#fff"/>
<rect x="1307.3" y="108.7" width="7.6" height="20.6" fill="#fff"/>
<rect x="1314.9" y="91.1" width="7.6" height="18.6" fill="#fff"/>
<rect x="1322.5" y="82.9" width="7.6" height="9.2" fill="#fff"/>
<rect x="1330.1" y="78.4" width="7.6" height="5.8" fill="#fff"/>
<rect x="1337.7" y="83.2" width="7.6" height="16.8" fill="#fff"/>
<rect x="1345.3" y="92.2" width="7.6" height="5.9" fill="#fff"/>
<rect x="1352.9" y="81.7" width="7.6" height="11.4" fill="#fff"/>
<rect x="1360.5" y="78.8" width="7.6" height="3.9" fill="#fff"/>
<rect x="1368.1" y="73.8" width="7.6" height="6.1" fill="#fff"/>
<rect x="1375.7" y="73.1" width="7.6" height="3.1" fill="#fff"/>
<rect x="1383.3" y="72.8" width="7.6" height="35.0" fill="#fff"/>
<rect x="1390.9" y="94.2" width="7.6" height="15.7" fill="#fff"/>
<rect x="1398.5" y="77.2" width="7.6" height="18.0" fill="#fff"/>
<rect x="1406.1" y="73.0" width="7.6" height="5.2" fill="#fff"/>
<rect x="1413.7" y="66.6" width="7.6" height="7.4" fill="#fff"/>
<rect x="1421.3" y="65.3" width="7.6" height="3.5" fill="#fff"/>
<rect x="1428.9" y="67.8" width="7.6" height="4.9" fill="#fff"/>
<rect x="1436.5" y="71.7" width="7.6" height="4.4" fill="#fff"/>
<rect x="1444.1" y="75.2" width="7.6" height="48.2" fill="#fff"/>
<rect x="1459.3" y="123.0" width="7.6" height="18.2" fill="#fff"/>
<rect x="1466.9" y="139.2" width="7.6" height="12.4" fill="#fff"/>
<rect x="1474.5" y="150.6" width="7.6" height="8.3" fill="#fff"/>
<rect x="1482.1" y="144.5" width="7.6" height="12.5" fill="#fff"/>
<rect x="1489.7" y="143.9" width="7.6" height="5.6" fill="#fff"/>
<rect x="1497.3" y="147.3" width="7.6" height="2.3" fill="#fff"/>
<rect x="1504.9" y="141.1" width="7.6" height="7.2" fill="#fff"/>
<rect x="1512.5" y="132.4" width="7.6" height="9.7" fill="#fff"/>
<rect x="1451.7" y="101.8" width="7.6" height="21.5" fill="#fff"/>
<rect x="1459.3" y="125.2" width="7.6" height="13.0" fill="#fff"/>
<rect x="1466.9" y="139.5" width="7.6" height="12.0" fill="#fff"/>
<rect x="1474.5" y="152.3" width="8.0" height="5.5" fill="#fff"/>
<rect x="1514.5" y="129.9" width="6.0" height="12.0" fill="#fff"/>
<rect x="1482.5" y="146.0" width="6.0" height="8.0" fill="#fff"/>
<rect x="1506.0" y="141.5" width="8.0" height="5.0" fill="#fff"/>
<polygon points="23.2,432.5 42.4,432.5 70.4,445.4 97.4,445.4 127.8,467.4 155.3,467.4 185.2,443.2 217.2,437.9 284.6,437.9 315.0,465.4 345.4,465.4 377.9,544.8 409.8,544.8 440.3,540.3 472.2,540.3 502.2,509.8 534.6,509.8 564.5,393.1 597.4,449.8 627.4,449.8 657.3,472.8 689.8,472.8 719.2,338.0 752.2,335.5 782.1,350.5 811.6,350.5 839.6,427.6 869.4,427.6 897.4,519.8 924.8,519.8 949.8,509.8 974.7,509.8 997.2,435.4 1019.7,435.4 1041.2,348.6 1061.9,348.6 1083.6,250.5 1101.1,250.5 1121.2,212.8 1139.9,212.8 1155.4,188.6 1172.4,188.6 1184.9,177.9 1198.6,177.9 1209.8,163.6 1219.8,161.9 1231.0,170.4 1239.8,170.4 1256.0,161.1 1264.7,137.4 1273.5,137.4 1278.5,126.9 1284.7,126.9 1292.7,144.9 1302.2,134.9 1307.5,128.0 1313.1,110.2 1318.7,105.5 1323.4,87.7 1336.5,78.4 1341.6,99.0 1349.0,95.2 1356.2,89.6 1360.8,81.2 1367.4,79.3 1375.8,73.7 1378.6,75.2 1383.9,72.8 1386.5,100.8 1388.0,99.0 1391.7,108.9 1395.5,104.6 1402.0,82.1 1406.7,76.5 1416.1,71.8 1422.6,65.3 1427.3,66.2 1431.0,70.0 1436.7,71.8 1440.4,74.6 1447.0,75.6 1451.3,122.4 1459.1,122.4 1464.7,140.2 1469.4,139.2 1477.8,157.9 1481.6,157.0 1487.2,145.8 1490.9,143.9 1497.5,148.6 1504.0,148.2 1511.5,141.1 1515.3,141.1 1521.5,129.9 1521.5,550.0 23.2,550.0" fill="#dddddb" stroke="none"/>
<polyline points="874.5,441.1 924.8,441.1 936,446.1 941,457.4 947.3,462.4 950,465" fill="none" stroke="#111" stroke-width="2.2" stroke-linejoin="round"/>
<line x1="1459" x2="1520" y1="112.5" y2="112.5" stroke="#111" stroke-width="2"/>
<polyline points="23.2,432.5 42.4,432.5 70.4,445.4 97.4,445.4 127.8,467.4 155.3,467.4 185.2,443.2 217.2,437.9 284.6,437.9 315.0,465.4 345.4,465.4 377.9,544.8 409.8,544.8 440.3,540.3 472.2,540.3 502.2,509.8 534.6,509.8 564.5,393.1 597.4,449.8 627.4,449.8 657.3,472.8 689.8,472.8 719.2,338.0 752.2,335.5 782.1,350.5 811.6,350.5 839.6,427.6 869.4,427.6 897.4,519.8 924.8,519.8 949.8,509.8 974.7,509.8 997.2,435.4 1019.7,435.4 1041.2,348.6 1061.9,348.6 1083.6,250.5 1101.1,250.5 1121.2,212.8 1139.9,212.8 1155.4,188.6 1172.4,188.6 1184.9,177.9 1198.6,177.9 1209.8,163.6 1219.8,161.9 1231.0,170.4 1239.8,170.4 1256.0,161.1 1264.7,137.4 1273.5,137.4 1278.5,126.9 1284.7,126.9 1292.7,144.9 1302.2,134.9 1307.5,128.0 1313.1,110.2 1318.7,105.5 1323.4,87.7 1336.5,78.4 1341.6,99.0 1349.0,95.2 1356.2,89.6 1360.8,81.2 1367.4,79.3 1375.8,73.7 1378.6,75.2 1383.9,72.8 1386.5,100.8 1388.0,99.0 1391.7,108.9 1395.5,104.6 1402.0,82.1 1406.7,76.5 1416.1,71.8 1422.6,65.3 1427.3,66.2 1431.0,70.0 1436.7,71.8 1440.4,74.6 1447.0,75.6 1451.3,122.4 1459.1,122.4 1464.7,140.2 1469.4,139.2 1477.8,157.9 1481.6,157.0 1487.2,145.8 1490.9,143.9 1497.5,148.6 1504.0,148.2 1511.5,141.1 1515.3,141.1 1521.5,129.9" fill="none" stroke="#111" stroke-width="2.9" stroke-linejoin="miter" stroke-linecap="butt"/>
<g stroke="#161616" stroke-width="2.6" fill="none" stroke-linecap="butt">
<line x1="21.9" y1="31.2" x2="1530.5" y2="31.2"/>
<line x1="23.2" y1="29.9" x2="23.2" y2="562"/>
<line x1="21.9" y1="550" x2="1522.9" y2="550"/>
<line x1="1521.6" y1="29.9" x2="1521.6" y2="554.6"/>
</g>
<g stroke="#161616" stroke-width="2.2" fill="none">
<line x1="64.8" x2="64.8" y1="550" y2="554.7"/>
<line x1="106.4" x2="106.4" y1="550" y2="554.7"/>
<line x1="148.1" x2="148.1" y1="550" y2="554.7"/>
<line x1="189.7" x2="189.7" y1="550" y2="554.7"/>
<line x1="231.3" x2="231.3" y1="550" y2="562"/>
<line x1="272.9" x2="272.9" y1="550" y2="554.7"/>
<line x1="314.5" x2="314.5" y1="550" y2="554.7"/>
<line x1="356.2" x2="356.2" y1="550" y2="554.7"/>
<line x1="397.8" x2="397.8" y1="550" y2="554.7"/>
<line x1="439.4" x2="439.4" y1="550" y2="562"/>
<line x1="481.0" x2="481.0" y1="550" y2="554.7"/>
<line x1="522.6" x2="522.6" y1="550" y2="554.7"/>
<line x1="564.3" x2="564.3" y1="550" y2="554.7"/>
<line x1="605.9" x2="605.9" y1="550" y2="554.7"/>
<line x1="647.5" x2="647.5" y1="550" y2="562"/>
<line x1="689.1" x2="689.1" y1="550" y2="554.7"/>
<line x1="730.7" x2="730.7" y1="550" y2="554.7"/>
<line x1="772.4" x2="772.4" y1="550" y2="554.7"/>
<line x1="814.0" x2="814.0" y1="550" y2="554.7"/>
<line x1="855.6" x2="855.6" y1="550" y2="562"/>
<line x1="897.2" x2="897.2" y1="550" y2="554.7"/>
<line x1="938.8" x2="938.8" y1="550" y2="554.7"/>
<line x1="980.5" x2="980.5" y1="550" y2="554.7"/>
<line x1="1022.1" x2="1022.1" y1="550" y2="554.7"/>
<line x1="1063.7" x2="1063.7" y1="550" y2="562"/>
<line x1="1105.3" x2="1105.3" y1="550" y2="554.7"/>
<line x1="1146.9" x2="1146.9" y1="550" y2="554.7"/>
<line x1="1188.6" x2="1188.6" y1="550" y2="554.7"/>
<line x1="1230.2" x2="1230.2" y1="550" y2="554.7"/>
<line x1="1271.8" x2="1271.8" y1="550" y2="562"/>
<line x1="1313.4" x2="1313.4" y1="550" y2="554.7"/>
<line x1="1355.0" x2="1355.0" y1="550" y2="554.7"/>
<line x1="1396.7" x2="1396.7" y1="550" y2="554.7"/>
<line x1="1438.3" x2="1438.3" y1="550" y2="554.7"/>
<line x1="1479.9" x2="1479.9" y1="550" y2="562"/>
<line x1="1521.6" x2="1526.4" y1="48.2" y2="48.2"/>
<line x1="1521.6" x2="1526.4" y1="64.8" y2="64.8"/>
<line x1="1521.6" x2="1526.4" y1="81.5" y2="81.5"/>
<line x1="1521.6" x2="1530.6" y1="98.1" y2="98.1"/>
<line x1="1521.6" x2="1526.4" y1="114.7" y2="114.7"/>
<line x1="1521.6" x2="1526.4" y1="131.3" y2="131.3"/>
<line x1="1521.6" x2="1526.4" y1="147.9" y2="147.9"/>
<line x1="1521.6" x2="1530.6" y1="164.6" y2="164.6"/>
<line x1="1521.6" x2="1526.4" y1="181.2" y2="181.2"/>
<line x1="1521.6" x2="1526.4" y1="197.8" y2="197.8"/>
<line x1="1521.6" x2="1526.4" y1="214.4" y2="214.4"/>
<line x1="1521.6" x2="1530.6" y1="231.0" y2="231.0"/>
<line x1="1521.6" x2="1526.4" y1="247.7" y2="247.7"/>
<line x1="1521.6" x2="1526.4" y1="264.3" y2="264.3"/>
<line x1="1521.6" x2="1526.4" y1="280.9" y2="280.9"/>
<line x1="1521.6" x2="1530.6" y1="297.5" y2="297.5"/>
<line x1="1521.6" x2="1526.4" y1="314.1" y2="314.1"/>
<line x1="1521.6" x2="1526.4" y1="330.8" y2="330.8"/>
<line x1="1521.6" x2="1526.4" y1="347.4" y2="347.4"/>
<line x1="1521.6" x2="1530.6" y1="364.0" y2="364.0"/>
<line x1="1521.6" x2="1526.4" y1="380.6" y2="380.6"/>
<line x1="1521.6" x2="1526.4" y1="397.2" y2="397.2"/>
<line x1="1521.6" x2="1526.4" y1="413.9" y2="413.9"/>
<line x1="1521.6" x2="1530.6" y1="430.5" y2="430.5"/>
<line x1="1521.6" x2="1526.4" y1="447.1" y2="447.1"/>
<line x1="1521.6" x2="1526.4" y1="463.7" y2="463.7"/>
<line x1="1521.6" x2="1526.4" y1="480.3" y2="480.3"/>
<line x1="1521.6" x2="1530.6" y1="497.0" y2="497.0"/>
<line x1="1521.6" x2="1526.4" y1="513.6" y2="513.6"/>
<line x1="1521.6" x2="1526.4" y1="530.2" y2="530.2"/>
<line x1="1521.6" x2="1526.4" y1="546.8" y2="546.8"/>
</g>
<rect x="1351.4" y="460" width="142.4" height="70" fill="#fff" stroke="#231f20" stroke-width="2"/>
<text x="1423.5" y="518" font-family="Liberation Sans" font-weight="bold" font-size="60.6" text-anchor="middle" fill="#231f20">2002</text>
<g font-family="Liberation Sans" font-size="27" fill="#1a1a1a">
<text x="24.0" y="586" text-anchor="middle">0.0</text>
<text x="232.1" y="586" text-anchor="middle">5.0</text>
<text x="440.2" y="586" text-anchor="middle">10.0</text>
<text x="648.3" y="586" text-anchor="middle">15.0</text>
<text x="856.4" y="586" text-anchor="middle">20.0</text>
<text x="1064.5" y="586" text-anchor="middle">25.0</text>
<text x="1272.6" y="586" text-anchor="middle">30.0</text>
<text x="1480.7" y="586" text-anchor="middle">35.0</text>
<text x="1532.6" y="39.6">0</text>
<text x="1532.6" y="107.7">-50</text>
<text x="1532.6" y="174.2">-100</text>
<text x="1532.6" y="240.6">-150</text>
<text x="1532.6" y="307.1">-200</text>
<text x="1532.6" y="373.6">-250</text>
<text x="1532.6" y="440.1">-300</text>
<text x="1532.6" y="506.6">-350</text>
</g>
<text x="779" y="630" font-family="Liberation Sans" font-style="italic" font-size="27.3" text-anchor="middle" fill="#1a1a1a">distance [km]</text>
<text transform="translate(1616.3,289.8) rotate(-90)" font-family="Liberation Sans" font-style="italic" font-size="27.3" text-anchor="middle" fill="#1a1a1a">pressure [db]</text>
<g font-family="Liberation Sans" font-weight="bold" font-size="22" fill="#0c0c0c" text-anchor="middle">
<text transform="translate(206.0,44.0) rotate(0)" y="7.9">6.0</text>
<text transform="translate(219.5,61.5) rotate(0)" y="7.9">5.0</text>
<text transform="translate(125.0,111.5) rotate(-6)" y="7.9">4.0</text>
<text transform="translate(153.5,108.0) rotate(0)" y="7.9">4.0</text>
<text transform="translate(153.0,210.0) rotate(45)" y="7.9">3.0</text>
<text transform="translate(237.0,239.0) rotate(0)" y="7.9">3.0</text>
<text transform="translate(478.0,133.5) rotate(38)" y="7.9">4.0</text>
<text transform="translate(496.5,195.0) rotate(-78)" y="7.9">3.0</text>
<text transform="translate(576.0,45.5) rotate(0)" y="7.9">6.0</text>
<text transform="translate(554.0,71.7) rotate(0)" y="7.9">5.0</text>
<text transform="translate(651.0,48.5) rotate(0)" y="7.9">5.0</text>
<text transform="translate(708.0,76.5) rotate(-42)" y="7.9">4.0</text>
<text transform="translate(735.0,101.0) rotate(-8)" y="7.9">3.0</text>
<text transform="translate(776.0,117.0) rotate(35)" y="7.9">3.0</text>
<text transform="translate(713.0,223.5) rotate(3)" y="7.9">3.0</text>
<text transform="translate(488.0,288.0) rotate(35)" y="7.9">2.0</text>
<text transform="translate(545.0,286.0) rotate(-20)" y="7.9">2.0</text>
<text transform="translate(745.5,305.5) rotate(0)" y="7.9">2.0</text>
<text transform="translate(688.5,379.0) rotate(-10)" y="7.9">1.0</text>
<text transform="translate(350.5,343.0) rotate(0)" y="7.9">2.0</text>
<text transform="translate(117.5,379.0) rotate(-15)" y="7.9">1.0</text>
<text transform="translate(405.0,447.0) rotate(50)" y="7.9">1.0</text>
<text transform="translate(842.5,48.5) rotate(8)" y="7.9">5.0</text>
<text transform="translate(799.0,56.0) rotate(0)" y="7.9">5.0</text>
<text transform="translate(928.5,43.0) rotate(0)" y="7.9">6.0</text>
<text transform="translate(971.0,108.0) rotate(0)" y="7.9">4.0</text>
<text transform="translate(1070.5,82.0) rotate(0)" y="7.9">5.0</text>
<text transform="translate(1107.0,52.5) rotate(40)" y="7.9">5.0</text>
<text transform="translate(1137.0,48.5) rotate(22)" y="7.9">4.</text>
<text transform="translate(1156.0,50.0) rotate(0)" y="7.9">3.0</text>
<text transform="translate(1253.0,54.0) rotate(-25)" y="7.9">4.0</text>
<text transform="translate(1262.0,50.0) rotate(0)" y="7.9">3.0</text>
<text transform="translate(1359.5,57.0) rotate(0)" y="7.9">5.0</text>
<text transform="translate(1295.0,91.0) rotate(0)" y="7.9">4.0</text>
<text transform="translate(1295.0,105.0) rotate(0)" y="7.9">3.0</text>
<text transform="translate(1436.5,49.0) rotate(12)" y="7.9">5.0</text>
<text transform="translate(1488.0,73.0) rotate(8)" y="7.9">4.0</text>
<text transform="translate(1488.0,88.0) rotate(0)" y="7.9">3.0</text>
<text transform="translate(1488.0,96.0) rotate(0)" y="7.9">2.0</text>
<text transform="translate(1488.0,104.0) rotate(0)" y="7.9">1.0</text>
<text transform="translate(1488.0,112.0) rotate(0)" y="7.9">0.0</text>
<text transform="translate(1485.0,120.0) rotate(0)" y="7.9">-0.5</text>
<text transform="translate(829.0,168.0) rotate(-12)" y="7.9">3.0</text>
<text transform="translate(926.5,182.5) rotate(-80)" y="7.9">3.0</text>
<text transform="translate(943.0,259.0) rotate(30)" y="7.9">3.0</text>
<text transform="translate(1073.0,240.0) rotate(30)" y="7.9">3.0</text>
<text transform="translate(922.7,301.7) rotate(0)" y="7.9">2.0</text>
<text transform="translate(1046.0,318.0) rotate(8)" y="7.9">2.0</text>
<text transform="translate(1014.0,366.0) rotate(-12)" y="7.9">1.0</text>
<text transform="translate(960.0,473.5) rotate(40)" y="7.9">0.0</text>
<text transform="translate(955.5,495.5) rotate(12)" y="7.9">-0.5</text>
</g>
</svg>
</body></html>
